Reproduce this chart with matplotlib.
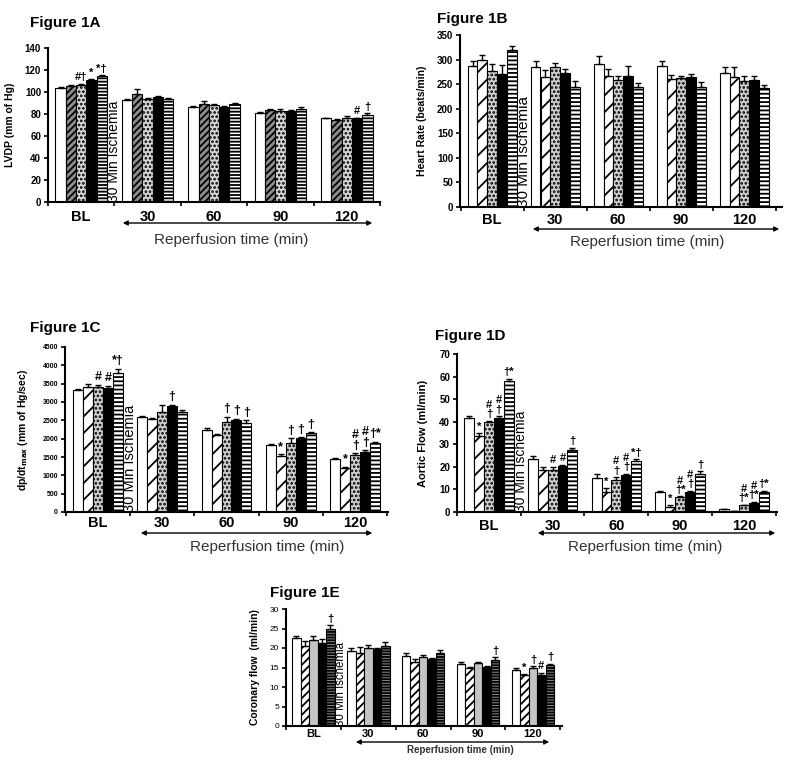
import numpy as np
import matplotlib
matplotlib.use("Agg")
import matplotlib.pyplot as plt
from matplotlib.patches import FancyArrowPatch

plt.rcParams['font.family'] = ['Liberation Sans', 'DejaVu Sans']
plt.rcParams['hatch.linewidth'] = 1.3

W, H = 800, 762

# ===== Data ===================================================================
# One row per treatment (white, diagonal, dotted, black, striped),
# one column per time point
groups = ["BL", "30", "60", "90", "120"]

# Figure 1A - LVDP (mm of Hg)
lvdpMeans = [[104, 92.5, 86.5, 81, 76],
             [105.5, 98, 89, 83.5, 75],
             [106.5, 94, 88.5, 82.5, 76.5],
             [110.5, 95.5, 86.5, 83, 76],
             [114.5, 94, 89, 85, 79.5]]
lvdpErrs = [[0.8, 1, 0.8, 0.8, 0.5],
            [0.8, 4.5, 3, 1, 0.8],
            [1, 1, 1, 2, 1.5],
            [1, 1, 0.8, 0.8, 0.8],
            [1, 0.8, 0.8, 1, 1]]
lvdpMarks = [(0, 2, "#†"), (0, 3, "*"), (0, 4, "*†"), (4, 3, "#"), (4, 4, "†")]

# Figure 1B - Heart rate (beats/min)
hrMeans = [[287, 284, 291, 286, 272],
           [300, 265, 267, 261, 264],
           [277, 284, 259, 262, 257],
           [271, 272, 267, 265, 259],
           [320, 244, 244, 245, 242]]
hrErrs = [[11, 13, 17, 12, 12],
          [9, 14, 13, 8, 20],
          [15, 9, 8, 5, 10],
          [18, 9, 19, 6, 7],
          [7, 13, 8, 9, 7]]
hrMarks = []

# Figure 1C - dp/dt max (mm of Hg/sec)
dpdtMeans = [[3330, 2600, 2240, 1830, 1440],
             [3400, 2530, 2100, 1540, 1200],
             [3400, 2720, 2450, 1890, 1560],
             [3370, 2900, 2510, 2010, 1650],
             [3780, 2740, 2440, 2150, 1890]]
dpdtErrs = [[30, 20, 60, 20, 20],
            [80, 20, 30, 30, 30],
            [70, 200, 150, 120, 40],
            [70, 30, 30, 30, 30],
            [130, 30, 60, 30, 30]]
dpdtMarks = [(0, 2, "#"), (0, 3, "#"), (0, 4, "*†"), (1, 3, "†"),
             (2, 2, "†"), (2, 3, "†"), (2, 4, "†"),
             (3, 1, "*"), (3, 2, "†"), (3, 3, "†"), (3, 4, "†"),
             (4, 1, "*"), (4, 2, "#\n†"), (4, 3, "#\n†"), (4, 4, "†*")]

# Figure 1D - Aortic flow (ml/min)
aoMeans = [[41.5, 23.5, 15, 9, 1.2],
           [33.5, 18.5, 9, 2, 0.3],
           [40, 18.5, 14, 6.5, 3],
           [41.5, 20.5, 16.5, 9, 4],
           [58, 27.5, 22.5, 17, 9]]
aoErrs = [[1, 1.5, 2, 0.5, 0.3],
          [1.5, 1.5, 1.5, 1, 0.2],
          [0.5, 1.5, 1.5, 0.5, 0.3],
          [1, 0.5, 0.5, 0.5, 0.5],
          [1, 1, 1, 1, 0.5]]
aoMarks = [(0, 1, "*"), (0, 2, "#\n†"), (0, 3, "#\n†"), (0, 4, "†*"),
           (1, 2, "#"), (1, 3, "#"), (1, 4, "†"),
           (2, 1, "*"), (2, 2, "#\n†"), (2, 3, "#\n†"), (2, 4, "*†"),
           (3, 1, "*"), (3, 2, "#\n†*"), (3, 3, "#\n†"), (3, 4, "†"),
           (4, 2, "#\n†*"), (4, 3, "#\n†*"), (4, 4, "†*")]

# Figure 1E - Coronary flow (ml/min)
cfMeans = [[22.5, 19.3, 18, 15.9, 14.4],
           [20.4, 18.8, 16.5, 14.8, 13.1],
           [22.1, 19.9, 17.8, 16.1, 15],
           [21.2, 19.8, 17.1, 15.2, 13.2],
           [24.8, 20.5, 18.7, 16.9, 15.6]]
cfErrs = [[0.7, 0.8, 0.7, 0.6, 0.5],
          [1.5, 1.5, 0.8, 0.3, 0.3],
          [1, 0.8, 0.4, 0.3, 0.3],
          [1, 0.3, 0.3, 0.3, 0.5],
          [1, 1, 0.8, 0.7, 0.4]]
cfMarks = [(0, 4, "†"), (3, 4, "†"), (4, 1, "*"), (4, 2, "†"), (4, 3, "#"), (4, 4, "†")]

# ===== Bar styles (facecolor, hatch) ==========================================
stylesA = [("white", None), ("#8c8c8c", "/////"), ("#d8d8d8", "...."),
           ("black", None), ("white", "-----")]
stylesBCD = [("white", None), ("white", "//"), ("#cfcfcf", "...."),
             ("black", None), ("white", "----")]
stylesE = [("white", None), ("white", "////"), ("#c4c4c4", None),
           ("black", None), ("#8a8a8a", "------")]


def frac(x, y):
    return x / W, 1 - y / H


def drawPanel(fig, means, errs, marks, styles, lay):
    left, top, right, bottom = lay["box"]
    ax = fig.add_axes([left / W, 1 - bottom / H, (right - left) / W,
                       (bottom - top) / H])
    width = 0.155
    x = np.arange(len(groups))
    for i, (fc, hatch) in enumerate(styles):
        pos = x + (i - 2) * width
        ax.bar(pos, means[i], width, color=fc, edgecolor="black",
               hatch=hatch, linewidth=0.8, zorder=2)
        ax.errorbar(pos, means[i], yerr=[np.zeros(len(groups)), errs[i]],
                    fmt="none", ecolor="black", elinewidth=1, capsize=2.2,
                    capthick=1, zorder=3)
    for g, b, txt in marks:
        ax.annotate(txt, (g + (b - 2) * width, means[b][g] + errs[b][g]),
                    xytext=(0, 1), textcoords="offset points", ha="center",
                    va="bottom", fontsize=lay["markSize"], fontweight="bold",
                    linespacing=0.9)

    ax.set_xlim(*lay["xlim"])
    ax.set_ylim(*lay["ylim"])
    ax.set_yticks(lay["yticks"])
    ax.set_xticks(x)
    ax.set_xticklabels(groups, fontsize=lay["xSize"], fontweight="bold")
    ax.set_xticks(np.arange(-0.5, len(groups)), minor=True)
    ax.tick_params(axis="x", which="major", length=0, pad=lay["xPad"])
    ax.tick_params(axis="x", which="minor", length=3, width=1.2)
    ax.tick_params(axis="y", length=3, width=1.2, labelsize=lay["ySize"],
                   pad=2)
    for lbl in ax.get_yticklabels():
        lbl.set_fontweight(lay["yWeight"])
    for side in ["top", "right"]:
        ax.spines[side].set_visible(False)
    for side in ["left", "bottom"]:
        ax.spines[side].set_linewidth(1.5)

    ax.set_ylabel(lay["ylabel"], fontsize=lay["labelSize"], fontweight="bold")
    ax.yaxis.set_label_coords((lay["labelX"] - left) / (right - left), 0.5)

    ax.text(0.5, 0, "30 Min Ischemia", rotation=90, ha="center", va="bottom",
            fontsize=lay["ischSize"], zorder=4)

    tx, ty = frac(*lay["titlePos"])
    fig.text(tx, ty, lay["title"], ha="left", va="center", fontsize=11,
             fontweight="bold")

    x0, x1, ya = lay["arrow"]
    arrow = FancyArrowPatch(frac(x0, ya), frac(x1, ya), transform=fig.transFigure,
                            arrowstyle="<|-|>", mutation_scale=7, lw=1,
                            color="black")
    fig.patches.append(arrow)
    rx, ry = frac(*lay["reperfPos"])
    fig.text(rx, ry, "Reperfusion time (min)", ha="center", va="center",
             fontsize=lay["reperfSize"], fontweight=lay["reperfWeight"],
             color="#333333")
    return ax


def main():
    fig = plt.figure(figsize=(W / 100, H / 100), dpi=100)

    layA = dict(box=(48, 48, 380, 202), xlim=(-0.48, 4.36), ylim=(0, 140),
                yticks=np.arange(0, 141, 20), ylabel="LVDP (mm of Hg)",
                labelX=15, labelSize=7.5, title="Figure 1A", titlePos=(30, 23),
                ischSize=10, arrow=(120, 375, 223), reperfPos=(231, 240),
                reperfSize=11, reperfWeight="normal", xSize=10.5, xPad=6,
                ySize=7, yWeight="bold", markSize=8)
    layB = dict(box=(460, 35, 782, 207), xlim=(-0.51, 4.6), ylim=(0, 350),
                yticks=np.arange(0, 351, 50), ylabel="Heart Rate (beats/min)",
                labelX=427, labelSize=7.5, title="Figure 1B", titlePos=(437, 19),
                ischSize=11, arrow=(530, 782, 229), reperfPos=(647, 242),
                reperfSize=11, reperfWeight="normal", xSize=10.5, xPad=4,
                ySize=7, yWeight="bold", markSize=8)
    layC = dict(box=(65, 347, 388, 512), xlim=(-0.51, 4.51), ylim=(0, 4500),
                yticks=np.arange(0, 4501, 500),
                ylabel="dp/dt$_{\\mathbf{max}}$ (mm of Hg/sec)",
                labelX=30, labelSize=7.5, title="Figure 1C", titlePos=(30, 328),
                ischSize=10.5, arrow=(138, 375, 533), reperfPos=(267, 547),
                reperfSize=11, reperfWeight="normal", xSize=10.5, xPad=3,
                ySize=5, yWeight="bold", markSize=9)
    layD = dict(box=(457, 354, 777, 512), xlim=(-0.5, 4.52), ylim=(0, 70),
                yticks=np.arange(0, 71, 10), ylabel="Aortic Flow (ml/min)",
                labelX=428, labelSize=8, title="Figure 1D", titlePos=(435, 336),
                ischSize=10, arrow=(535, 778, 533), reperfPos=(645, 547),
                reperfSize=11, reperfWeight="normal", xSize=10.5, xPad=5,
                ySize=7, yWeight="bold", markSize=8)
    layE = dict(box=(286, 609, 562, 726), xlim=(-0.49, 4.53), ylim=(0, 30),
                yticks=np.arange(0, 31, 5), ylabel="Coronary flow  (ml/min)",
                labelX=260, labelSize=7.5, title="Figure 1E", titlePos=(270, 593),
                ischSize=8.3, arrow=(353, 552, 742), reperfPos=(460, 750),
                reperfSize=7, reperfWeight="bold", xSize=8, xPad=2,
                ySize=6, yWeight="normal", markSize=8)

    drawPanel(fig, lvdpMeans, lvdpErrs, lvdpMarks, stylesA, layA)
    drawPanel(fig, hrMeans, hrErrs, hrMarks, stylesBCD, layB)
    drawPanel(fig, dpdtMeans, dpdtErrs, dpdtMarks, stylesBCD, layC)
    drawPanel(fig, aoMeans, aoErrs, aoMarks, stylesBCD, layD)
    drawPanel(fig, cfMeans, cfErrs, cfMarks, stylesE, layE)

    fig.savefig("out.png", dpi=100)


if __name__ == "__main__":
    main()
